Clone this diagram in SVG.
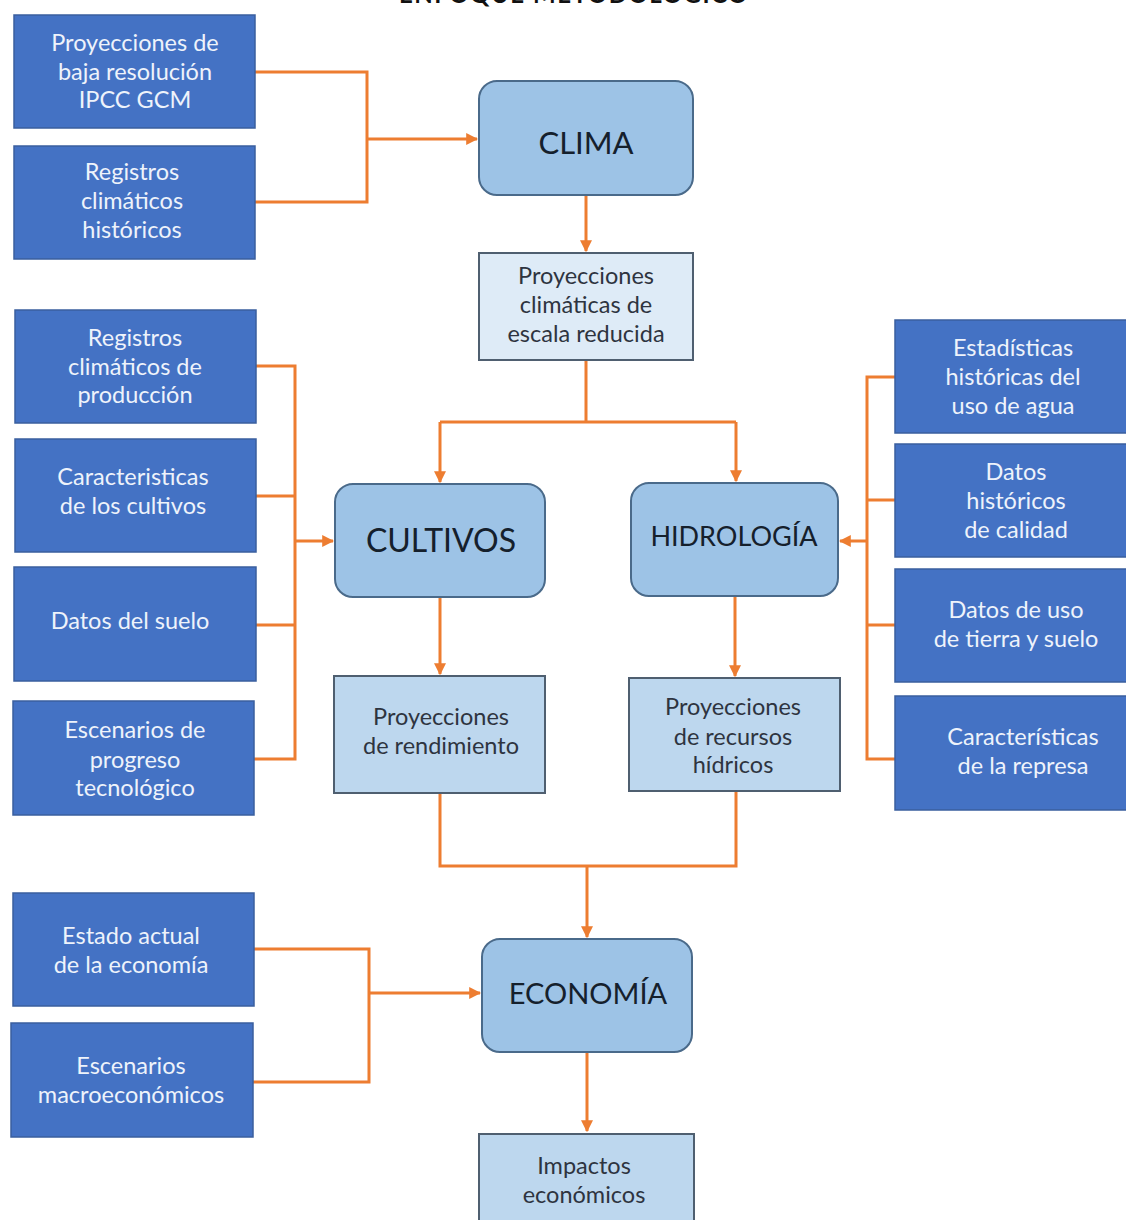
<svg xmlns="http://www.w3.org/2000/svg" width="1126" height="1220" viewBox="0 0 1126 1220">
<defs>
<marker id="ah" viewBox="0 0 10 10" refX="9" refY="5" markerWidth="4" markerHeight="4" orient="auto-start-reverse" markerUnits="strokeWidth">
<path d="M0,0 L10,5 L0,10 z" fill="#ED7D31"/>
</marker>
<style>
.src{fill:#4472C4;stroke:#3a5f9e;stroke-width:1.5}
.src-t{font-family:Lato,"Open Sans","Liberation Sans",sans-serif;font-size:23.5px;fill:#eef3fb;text-anchor:middle}
.main{fill:#9DC3E6;stroke:#4a6a8a;stroke-width:2}
.main-t{font-family:Lato,"Open Sans","Liberation Sans",sans-serif;font-size:31px;fill:#15202c;text-anchor:middle}
.out{fill:#BDD7EE;stroke:#4f5f70;stroke-width:2}
.out1{fill:#DEEBF7;stroke:#4f5f70;stroke-width:2}
.out-t{font-family:Lato,"Open Sans","Liberation Sans",sans-serif;font-size:23.5px;fill:#2e3440;text-anchor:middle}
.c{fill:none;stroke:#ED7D31;stroke-width:3}
.ttl{font-family:Lato,"Liberation Sans",sans-serif;font-size:24px;font-weight:bold;fill:#111;text-anchor:middle;letter-spacing:1.5px}
</style>
</defs>
<rect width="1126" height="1220" fill="#ffffff"/>
<text class="ttl" x="574" y="3">ENFOQUE METODOLÓGICO</text>

<g id="connectors">
<path class="c" d="M255,72 H367 V202 H255"/>
<path class="c" d="M367,139 H477" marker-end="url(#ah)"/>
<path class="c" d="M586,195 V251" marker-end="url(#ah)"/>
<path class="c" d="M586,360 V422 M440,422 H736"/>
<path class="c" d="M440,422 V482" marker-end="url(#ah)"/>
<path class="c" d="M736,422 V481" marker-end="url(#ah)"/>
<path class="c" d="M256,366 H295 V759 H254 M256,496 H295 M256,625 H295"/>
<path class="c" d="M295,541 H333" marker-end="url(#ah)"/>
<path class="c" d="M895,377 H867 V759 H895 M895,500 H867 M895,625 H867"/>
<path class="c" d="M867,541 H840" marker-end="url(#ah)"/>
<path class="c" d="M440,597 V674" marker-end="url(#ah)"/>
<path class="c" d="M735,596 V676" marker-end="url(#ah)"/>
<path class="c" d="M440,793 V866 H736 V791"/>
<path class="c" d="M587,866 V937" marker-end="url(#ah)"/>
<path class="c" d="M254,949 H369 V1082 H253"/>
<path class="c" d="M369,993 H480" marker-end="url(#ah)"/>
<path class="c" d="M587,1052 V1131" marker-end="url(#ah)"/>
</g>

<g id="n-proy-baja"><rect class="src" x="14" y="15" width="241" height="113"/>
<text class="src-t"><tspan x="135" y="51">Proyecciones de</tspan><tspan x="135" y="80">baja resolución</tspan><tspan x="135" y="108">IPCC GCM</tspan></text></g>
<g id="n-reg-hist"><rect class="src" x="14" y="146" width="241" height="113"/>
<text class="src-t"><tspan x="132" y="180">Registros</tspan><tspan x="132" y="209">climáticos</tspan><tspan x="132" y="238">históricos</tspan></text></g>

<g id="n-clima"><rect class="main" x="479" y="81" width="214" height="114" rx="18"/>
<text class="main-t" x="586" y="154">CLIMA</text></g>
<g id="n-proy-clim"><rect class="out1" x="479" y="253" width="214" height="107"/>
<text class="out-t"><tspan x="586" y="284">Proyecciones</tspan><tspan x="586" y="313">climáticas de</tspan><tspan x="586" y="342">escala reducida</tspan></text></g>

<g id="n-reg-prod"><rect class="src" x="15" y="310" width="241" height="113"/>
<text class="src-t"><tspan x="135" y="346">Registros</tspan><tspan x="135" y="375">climáticos de</tspan><tspan x="135" y="403">producción</tspan></text></g>
<g id="n-car-cult"><rect class="src" x="15" y="439" width="241" height="113"/>
<text class="src-t"><tspan x="133" y="485">Caracteristicas</tspan><tspan x="133" y="514">de los cultivos</tspan></text></g>
<g id="n-suelo"><rect class="src" x="14" y="567" width="242" height="114"/>
<text class="src-t" x="130" y="629">Datos del suelo</text></g>
<g id="n-esc-tec"><rect class="src" x="13" y="701" width="241" height="114"/>
<text class="src-t"><tspan x="135" y="738">Escenarios de</tspan><tspan x="135" y="768">progreso</tspan><tspan x="135" y="796">tecnológico</tspan></text></g>

<g id="n-cultivos"><rect class="main" x="335" y="484" width="210" height="113" rx="18"/>
<text class="main-t" x="441" y="552" style="font-size:32px">CULTIVOS</text></g>
<g id="n-hidro"><rect class="main" x="631" y="483" width="207" height="113" rx="18"/>
<text class="main-t" x="734" y="546" style="font-size:27px">HIDROLOGÍA</text></g>

<g id="n-proy-rend"><rect class="out" x="334" y="676" width="211" height="117"/>
<text class="out-t"><tspan x="441" y="725">Proyecciones</tspan><tspan x="441" y="754">de rendimiento</tspan></text></g>
<g id="n-proy-hid"><rect class="out" x="629" y="678" width="211" height="113"/>
<text class="out-t"><tspan x="733" y="715">Proyecciones</tspan><tspan x="733" y="745">de recursos</tspan><tspan x="733" y="773">hídricos</tspan></text></g>

<g id="n-est-agua"><rect class="src" x="895" y="320" width="240" height="113"/>
<text class="src-t"><tspan x="1013" y="356">Estadísticas</tspan><tspan x="1013" y="385">históricas del</tspan><tspan x="1013" y="414">uso de agua</tspan></text></g>
<g id="n-calidad"><rect class="src" x="895" y="444" width="240" height="113"/>
<text class="src-t"><tspan x="1016" y="480">Datos</tspan><tspan x="1016" y="509">históricos</tspan><tspan x="1016" y="538">de calidad</tspan></text></g>
<g id="n-tierra"><rect class="src" x="895" y="569" width="240" height="113"/>
<text class="src-t"><tspan x="1016" y="618">Datos de uso</tspan><tspan x="1016" y="647">de tierra y suelo</tspan></text></g>
<g id="n-represa"><rect class="src" x="895" y="696" width="240" height="114"/>
<text class="src-t"><tspan x="1023" y="745">Características</tspan><tspan x="1023" y="774">de la represa</tspan></text></g>

<g id="n-estado-eco"><rect class="src" x="13" y="893" width="241" height="113"/>
<text class="src-t"><tspan x="131" y="944">Estado actual</tspan><tspan x="131" y="973">de la economía</tspan></text></g>
<g id="n-esc-macro"><rect class="src" x="11" y="1023" width="242" height="114"/>
<text class="src-t"><tspan x="131" y="1074">Escenarios</tspan><tspan x="131" y="1103">macroeconómicos</tspan></text></g>

<g id="n-economia"><rect class="main" x="482" y="939" width="210" height="113" rx="18"/>
<text class="main-t" x="588" y="1004" style="font-size:29px">ECONOMÍA</text></g>
<g id="n-impactos"><rect class="out" x="479" y="1134" width="215" height="100"/>
<text class="out-t"><tspan x="584" y="1174">Impactos</tspan><tspan x="584" y="1203">económicos</tspan></text></g>
</svg>
